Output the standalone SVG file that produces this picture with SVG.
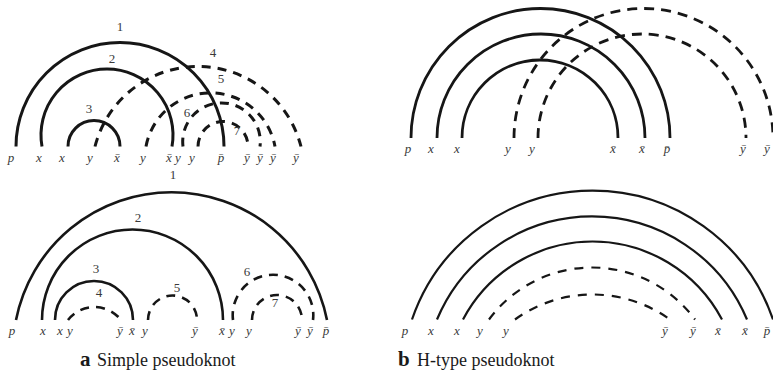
<svg xmlns="http://www.w3.org/2000/svg" width="773" height="385" viewBox="0 0 773 385">
<style>
.arc{fill:none;stroke:#161616;stroke-linecap:butt}
.tl{stroke-width:3}
.bl{stroke-width:2.6}
.tr{stroke-width:2.8}
.br{stroke-width:2.2}
.d1{stroke-dasharray:9 7}
.d2{stroke-dasharray:10 7}
.d3{stroke-dasharray:9 8}
.lab{font-family:"Liberation Serif","Times New Roman",serif;font-style:italic;font-size:13px;fill:#3a3a3a;text-anchor:middle}
.num{font-family:"Liberation Serif","Times New Roman",serif;font-size:13px;fill:#3a3a3a;text-anchor:middle}
.cap{font-family:"Liberation Serif","Times New Roman",serif;font-size:18px;fill:#1a1a1a}
.capb{font-family:"Liberation Serif","Times New Roman",serif;font-size:21px;font-weight:bold;fill:#1a1a1a}
</style>
<rect width="773" height="385" fill="#fff"/>

<g id="panel-a-top">
  <g id="connectors-a-top">
    <path id="a1-1" class="arc tl" d="M16,146.5 A104,104 0 0 1 224,146.5"/>
    <path id="a1-2" class="arc tl" d="M42,146.5 A66,66 0 1 1 172,146.5"/>
    <path id="a1-3" class="arc tl" d="M68,146.5 A26,26 0 0 1 120,146.5"/>
    <path id="a1-4" class="arc tl d1" d="M95,146.5 A106.3,106.3 0 0 1 301,146.5"/>
    <path id="a1-5" class="arc tl d1" d="M146,146.5 A65.6,65.6 0 0 1 275,146.5"/>
    <path id="a1-6" class="arc tl d1" d="M183,146.5 A38.8,38.8 0 1 1 260,146.5"/>
    <path id="a1-7" class="arc tl d1" d="M198,146.5 A25,25 0 0 1 248,146.5"/>
  </g>
  <g id="nums-a-top">
    <text class="num" x="120" y="30.5">1</text>
    <text class="num" x="112" y="63">2</text>
    <text class="num" x="89" y="113">3</text>
    <text class="num" x="213" y="57">4</text>
    <text class="num" x="221" y="83">5</text>
    <text class="num" x="187" y="117">6</text>
    <text class="num" x="237" y="135">7</text>
  </g>
  <g id="labels-a-top">
    <text class="lab" x="11" y="161.5">p</text>
    <text class="lab" x="39" y="161.5">x</text>
    <text class="lab" x="62" y="161.5">x</text>
    <text class="lab" x="90" y="161.5">y</text>
    <text class="lab" x="117" y="161.5">x̄</text>
    <text class="lab" x="143" y="161.5">y</text>
    <text class="lab" x="169" y="161.5">x̄</text>
    <text class="lab" x="178" y="161.5">y</text>
    <text class="lab" x="192" y="161.5">y</text>
    <text class="lab" x="221" y="161.5">p̄</text>
    <text class="lab" x="247" y="161.5">ȳ</text>
    <text class="lab" x="260" y="161.5">ȳ</text>
    <text class="lab" x="273" y="161.5">ȳ</text>
    <text class="lab" x="296" y="161.5">ȳ</text>
  </g>
</g>

<g id="panel-a-bottom">
  <g id="connectors-a-bottom">
    <path id="a2-1" class="arc bl" d="M16,320 A158.5,158.5 0 0 1 327,320"/>
    <path id="a2-2" class="arc bl" d="M42,320 A90.5,90.5 0 0 1 223,320"/>
    <path id="a2-3" class="arc bl" d="M55,320 A39,39 0 0 1 133,320"/>
    <path id="a2-4" class="arc bl d1" d="M68,320 A33.5,33.5 0 0 1 121,320"/>
    <path id="a2-5" class="arc bl d1" d="M148,320 A24.5,24.5 0 0 1 197,320"/>
    <path id="a2-6" class="arc bl d1" d="M233,320 A40.3,40.3 0 1 1 313,320"/>
    <path id="a2-7" class="arc bl d1" d="M252,320 A25,25 0 0 1 302,320"/>
  </g>
  <g id="nums-a-bottom">
    <text class="num" x="173" y="179">1</text>
    <text class="num" x="138" y="221.5">2</text>
    <text class="num" x="96" y="273">3</text>
    <text class="num" x="99" y="296.5">4</text>
    <text class="num" x="177" y="291.5">5</text>
    <text class="num" x="247" y="275.5">6</text>
    <text class="num" x="275" y="306.5">7</text>
  </g>
  <g id="labels-a-bottom">
    <text class="lab" x="12" y="335">p</text>
    <text class="lab" x="43" y="335">x</text>
    <text class="lab" x="60" y="335">x</text>
    <text class="lab" x="70" y="335">y</text>
    <text class="lab" x="120" y="335">ȳ</text>
    <text class="lab" x="132" y="335">x̄</text>
    <text class="lab" x="145" y="335">y</text>
    <text class="lab" x="195" y="335">ȳ</text>
    <text class="lab" x="222" y="335">x̄</text>
    <text class="lab" x="232" y="335">y</text>
    <text class="lab" x="249" y="335">y</text>
    <text class="lab" x="298" y="335">ȳ</text>
    <text class="lab" x="310" y="335">ȳ</text>
    <text class="lab" x="326" y="335">p̄</text>
  </g>
</g>

<g id="panel-b-top">
  <g id="connectors-b-top">
    <path id="b1-1" class="arc tr" d="M411,138 A129.5,129.5 0 0 1 670,138"/>
    <path id="b1-2" class="arc tr" d="M437,138 A104,104 0 0 1 645,138"/>
    <path id="b1-3" class="arc tr" d="M462,138 A78,78 0 0 1 618,138"/>
    <path id="b1-4" class="arc tr d2" d="M514,138 A129.5,129.5 0 0 1 773,138"/>
    <path id="b1-5" class="arc tr d2" d="M538,138 A104,104 0 0 1 746,138"/>
  </g>
  <g id="labels-b-top">
    <text class="lab" x="408" y="153.3">p</text>
    <text class="lab" x="431" y="153.3">x</text>
    <text class="lab" x="457" y="153.3">x</text>
    <text class="lab" x="508" y="153.3">y</text>
    <text class="lab" x="532" y="153.3">y</text>
    <text class="lab" x="613" y="153.3">x̄</text>
    <text class="lab" x="642" y="153.3">x̄</text>
    <text class="lab" x="667" y="153.3">p̄</text>
    <text class="lab" x="743" y="153.3">ȳ</text>
    <text class="lab" x="767" y="153.3">ȳ</text>
  </g>
</g>

<g id="panel-b-bottom">
  <g id="connectors-b-bottom">
    <path id="b2-1" class="arc br" d="M412,319.5 A190.8,190.8 0 0 1 773,319.5"/>
    <path id="b2-2" class="arc br" d="M437,319.5 A168.1,168.1 0 0 1 747,319.5"/>
    <path id="b2-3" class="arc br" d="M463,319.5 A146.5,146.5 0 0 1 722,319.5"/>
    <path id="b2-4" class="arc br d3" d="M489,319.5 A128,128 0 0 1 695,319.5"/>
    <path id="b2-5" class="arc br d3" d="M515,319.5 A132.6,132.6 0 0 1 670,319.5"/>
  </g>
  <g id="labels-b-bottom">
    <text class="lab" x="405" y="335">p</text>
    <text class="lab" x="431" y="335">x</text>
    <text class="lab" x="457" y="335">x</text>
    <text class="lab" x="480" y="335">y</text>
    <text class="lab" x="506" y="335">y</text>
    <text class="lab" x="665" y="335">ȳ</text>
    <text class="lab" x="693" y="335">ȳ</text>
    <text class="lab" x="718" y="335">x̄</text>
    <text class="lab" x="745" y="335">x̄</text>
    <text class="lab" x="767" y="335">p̄</text>
  </g>
</g>

<g id="captions">
  <text class="capb" x="80" y="366">a</text>
  <text class="cap" x="97" y="366">Simple pseudoknot</text>
  <text class="capb" x="398" y="366">b</text>
  <text class="cap" x="417" y="366">H-type pseudoknot</text>
</g>
</svg>
